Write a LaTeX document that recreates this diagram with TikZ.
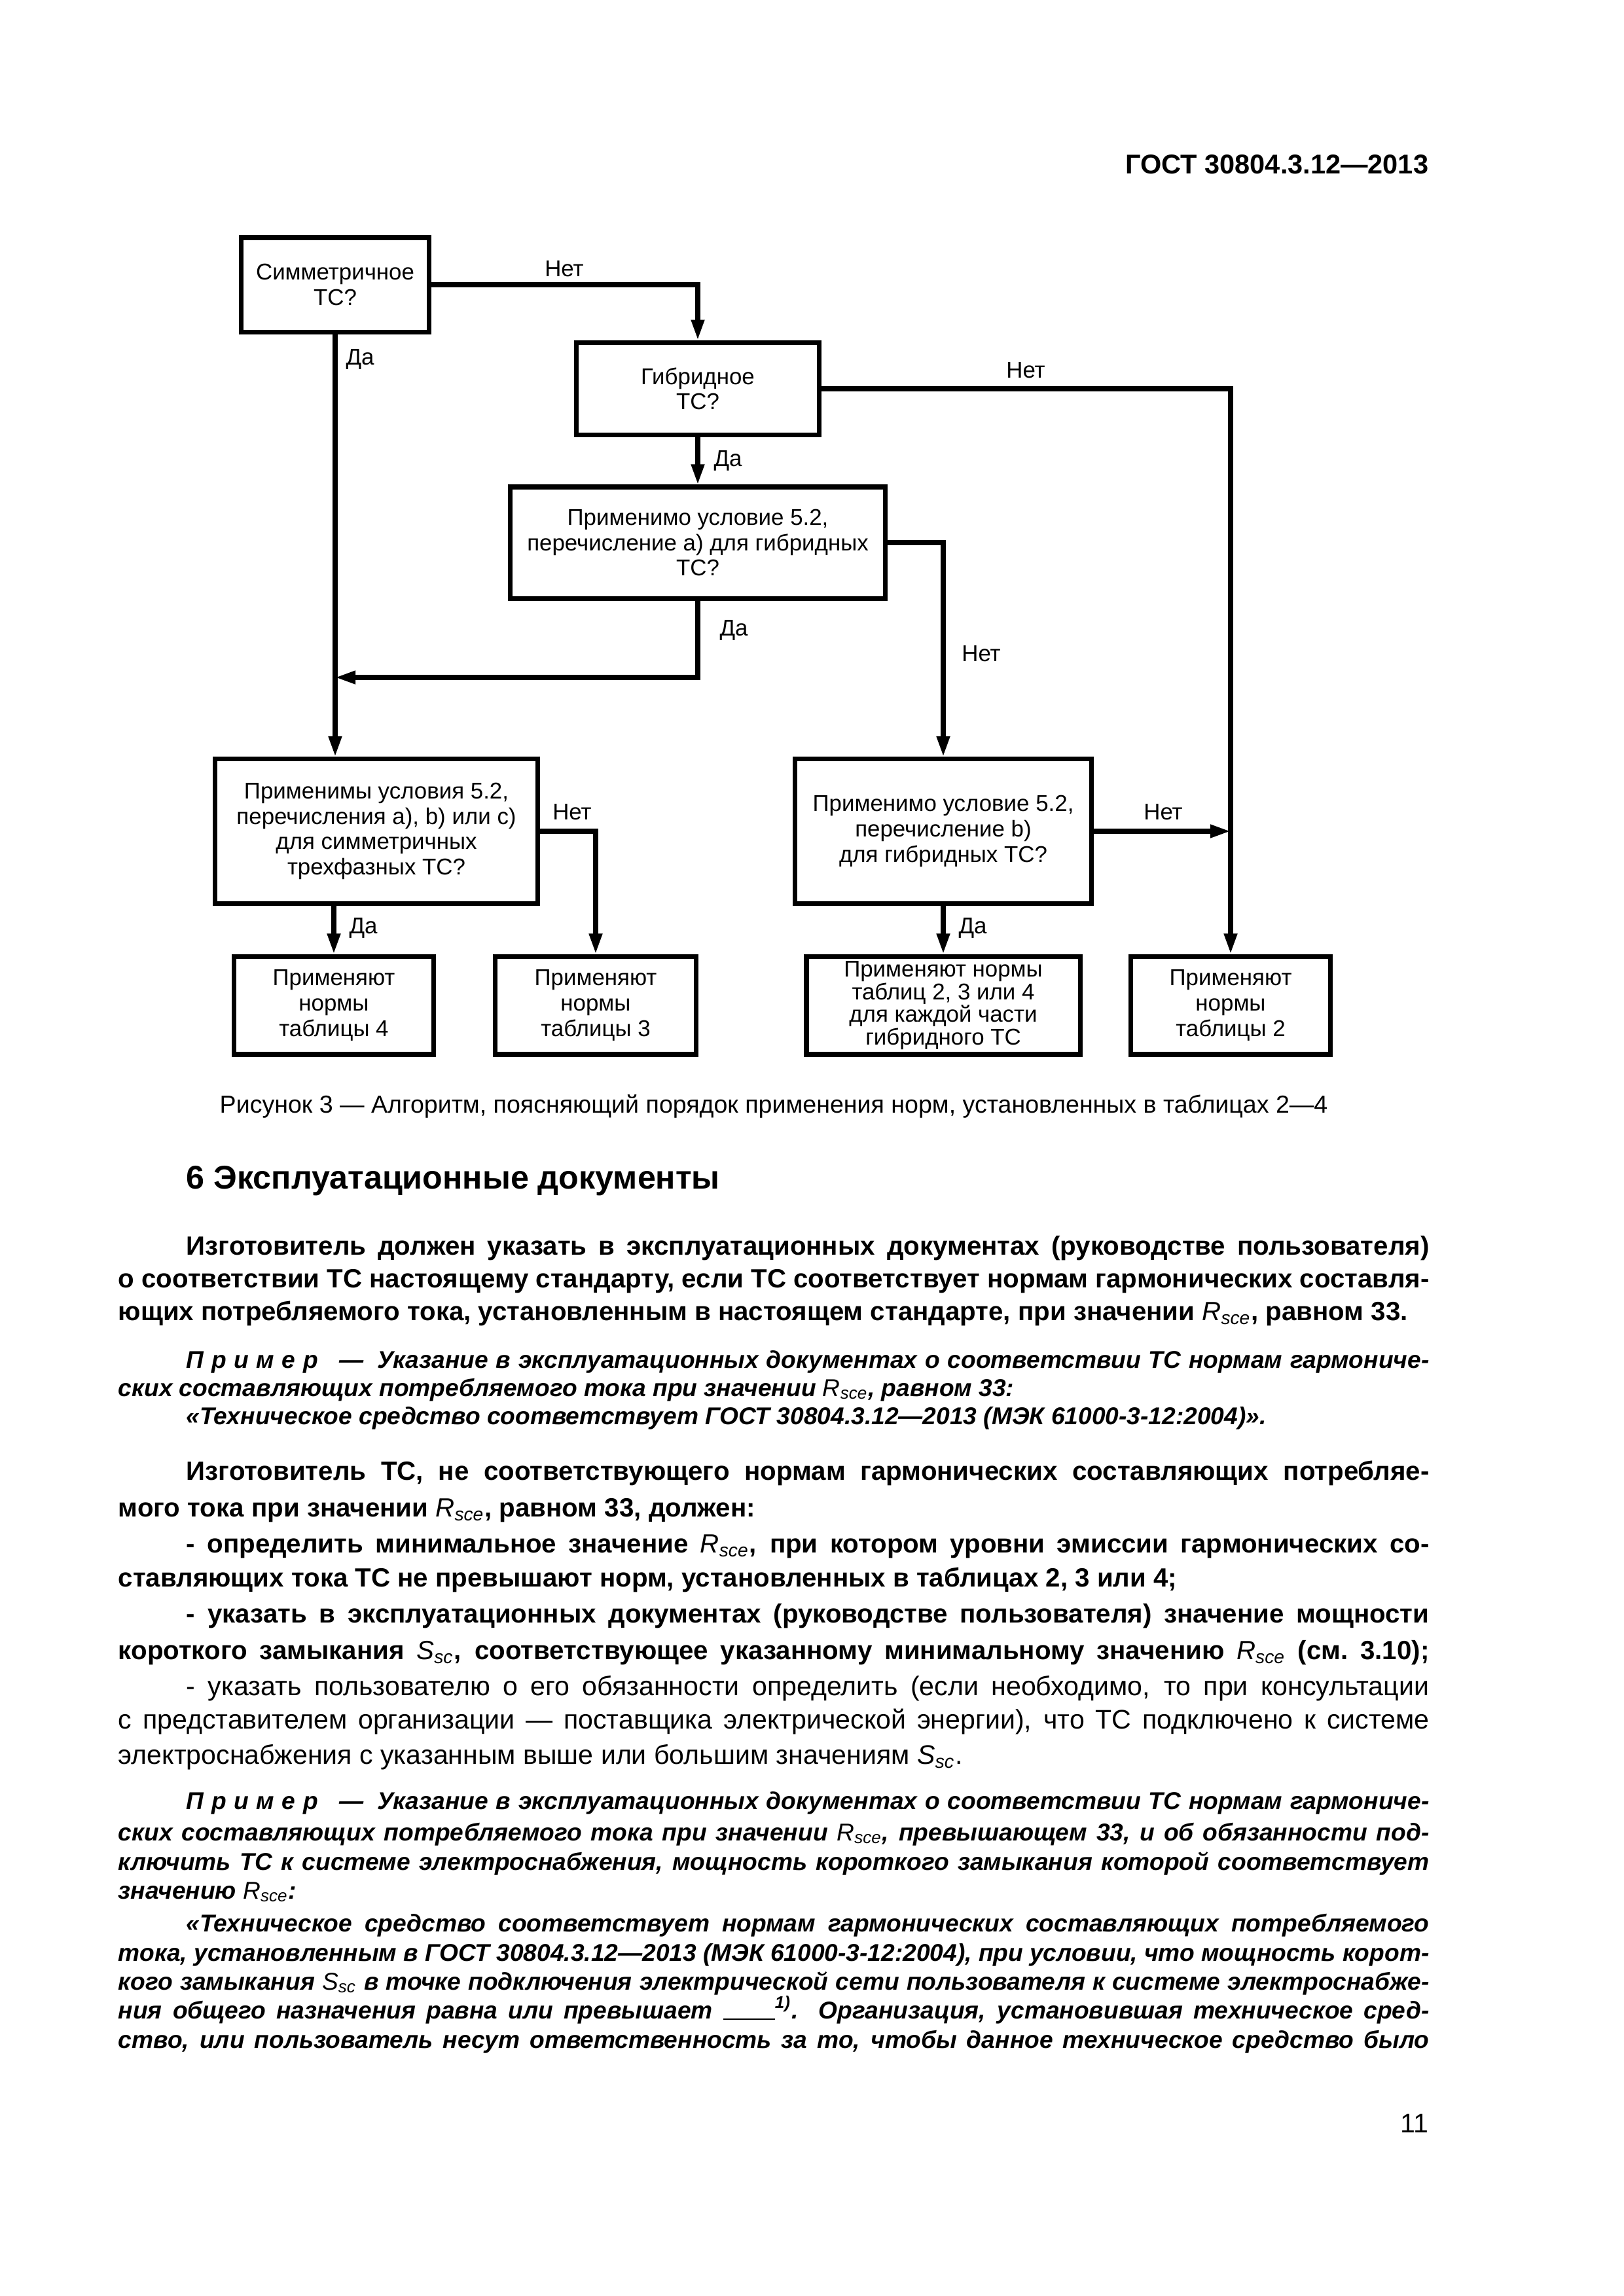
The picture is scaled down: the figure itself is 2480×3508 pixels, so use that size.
\documentclass[tikz,border=0pt]{standalone}
\usepackage{fontspec}
\setmainfont{Liberation Sans}
\usetikzlibrary{arrows.meta}

\newcommand{\flowfont}{\fontsize{8.4pt}{9.3pt}\selectfont}
\newcommand{\bodyfont}{\fontsize{9.7pt}{11.9pt}\selectfont\bfseries}
\newcommand{\plainfont}{\fontsize{9.9pt}{11.9pt}\selectfont}
\newcommand{\notefont}{\fontsize{8.95pt}{10.6pt}\selectfont\bfseries\itshape}
\newcommand{\Rsce}{{\normalfont\itshape R\textsubscript{sce}}}
\newcommand{\Ssc}{{\normalfont\itshape S\textsubscript{sc}}}
\newcommand{\primer}{П\kern2.8pt р\kern2.8pt и\kern2.8pt м\kern2.8pt е\kern2.8pt р\hspace{5pt} —\hspace{5pt}}
\newlength\fullw \setlength\fullw{16.959cm}
\newlength\indw \setlength\indw{16.078cm}

\tikzset{
  box/.style={draw=black, line width=1.7pt, align=center, inner sep=0pt, font=\flowfont},
  arr/.style={-{Triangle[length=7.5pt,width=4.6pt]}, line width=1.7pt},
  lbl/.style={inner sep=0pt, font=\flowfont},
  txt/.style={anchor=base west, inner sep=0pt},
}

\begin{document}
\begin{tikzpicture}[x=0.0084667cm, y=-0.0084667cm]
    \useasboundingbox (0,0) rectangle (2480,3508);

    \node[anchor=base east, inner sep=0pt, font=\fontsize{10pt}{12pt}\selectfont\bfseries] (head) at (2183,265) {ГОСТ 30804.3.12—2013};

    \node[box, minimum width=2.43cm, minimum height=1.22cm] (sym) at (512,435) {Симметричное\\ТС?};
    \node[box, minimum width=3.14cm, minimum height=1.20cm] (hyb) at (1066,594) {Гибридное\\ТС?};
    \node[box, minimum width=4.86cm, minimum height=1.44cm] (hyba) at (1066,829) {Применимо условие 5.2,\\перечисление a) для гибридных\\ТС?};
    \node[box, minimum width=4.17cm, minimum height=1.87cm] (abc) at (575,1270) {Применимы условия 5.2,\\перечисления a), b) или c)\\для симметричных\\трехфазных ТС?};
    \node[box, minimum width=3.83cm, minimum height=1.87cm] (hybb) at (1441,1270) {Применимо условие 5.2,\\перечисление b)\\для гибридных ТС?};
    \node[box, minimum width=2.58cm, minimum height=1.27cm] (tab4) at (510,1536) {Применяют\\нормы\\таблицы 4};
    \node[box, minimum width=2.60cm, minimum height=1.27cm] (tab3) at (910,1536) {Применяют\\нормы\\таблицы 3};
    \node[box, minimum width=3.54cm, minimum height=1.27cm, font=\fontsize{8.4pt}{8.3pt}\selectfont] (tab234) at (1441,1536) {Применяют нормы\\таблиц 2, 3 или 4\\для каждой части\\гибридного ТС};
    \node[box, minimum width=2.58cm, minimum height=1.27cm] (tab2) at (1880,1536) {Применяют\\нормы\\таблицы 2};
    \coordinate (mrg) at (512,1035);

    \draw[arr] (sym.east) -| (hyb.north);
    \draw[arr] (sym.south) -- (sym.south |- abc.north);
    \draw[arr] (hyb.south) -- (hyba.north);
    \draw[arr] (hyb.east) -| (tab2.north);
    \draw[arr] (hyba.east) -| (hybb.north);
    \draw[arr] (hyba.south) |- (mrg);
    \draw[arr] (abc.east) -| (tab3.north);
    \draw[arr] (tab4.north |- abc.south) -- (tab4.north);
    \draw[arr] (hybb.east) -- (hybb.east -| tab2.north);
    \draw[arr] (hybb.south) -- (tab234.north);

    \node[lbl] (no1) at (862,411) {Нет};
    \node[lbl] (yes1) at (550,549) {Да};
    \node[lbl] (yes2) at (1112,704) {Да};
    \node[lbl] (no2) at (1567,566) {Нет};
    \node[lbl] (no3) at (1499,999) {Нет};
    \node[lbl] (yes3) at (1121,963) {Да};
    \node[lbl] (no4) at (874,1241) {Нет};
    \node[lbl] (yes4) at (555,1418) {Да};
    \node[lbl] (no5) at (1777,1241) {Нет};
    \node[lbl] (yes5) at (1486,1418) {Да};

    \node[anchor=base, inner sep=0pt, font=\fontsize{9.05pt}{11pt}\selectfont] (cap) at (1182,1700) {Рисунок 3 — Алгоритм, поясняющий порядок применения норм, установленных в таблицах 2—4};

    \node[txt, font=\fontsize{12.1pt}{14pt}\selectfont\bfseries] (sec) at (284,1816) {6 Эксплуатационные документы};

    \node[txt, font=\bodyfont] (p1a) at (284,1917) {\makebox[\indw][s]{Изготовитель должен указать в эксплуатационных документах (руководстве пользователя)}};
    \node[txt, font=\bodyfont] (p1b) at (180,1967) {\makebox[\fullw][s]{о соответствии ТС настоящему стандарту, если ТС соответствует нормам гармонических составля-}};
    \node[txt, font=\bodyfont] (p1c) at (180,2017) {ющих потребляемого тока, установленным в настоящем стандарте, при значении \Rsce, равном 33.};

    \node[txt, font=\notefont] (n1a) at (284,2090) {\makebox[\indw][s]{\primer Указание в эксплуатационных документах о соответствии ТС нормам гармониче-}};
    \node[txt, font=\notefont] (n1b) at (180,2133) {ских составляющих потребляемого тока при значении \Rsce, равном 33:};
    \node[txt, font=\notefont] (n1c) at (284,2176) {«Техническое средство соответствует ГОСТ 30804.3.12—2013 (МЭК 61000-3-12:2004)».};

    \node[txt, font=\bodyfont] (p2a) at (284,2261) {\makebox[\indw][s]{Изготовитель ТС, не соответствующего нормам гармонических составляющих потребляе-}};
    \node[txt, font=\bodyfont] (p2b) at (180,2317) {мого тока при значении \Rsce, равном 33, должен:};
    \node[txt, font=\bodyfont] (b1a) at (284,2372) {\makebox[\indw][s]{- определить минимальное значение \Rsce, при котором уровни эмиссии гармонических со-}};
    \node[txt, font=\bodyfont] (b1b) at (180,2424) {ставляющих тока ТС не превышают норм, установленных в таблицах 2, 3 или 4;};
    \node[txt, font=\bodyfont] (b2a) at (284,2479) {\makebox[\indw][s]{- указать в эксплуатационных документах (руководстве пользователя) значение мощности}};
    \node[txt, font=\bodyfont] (b2b) at (180,2535) {\makebox[\fullw][s]{короткого замыкания \Ssc, соответствующее указанному минимальному значению \Rsce{} (см.~3.10);}};
    \node[txt, font=\plainfont] (b3a) at (284,2590) {\makebox[\indw][s]{- указать пользователю о его обязанности определить (если необходимо, то при консультации}};
    \node[txt, font=\plainfont] (b3b) at (180,2641) {\makebox[\fullw][s]{с представителем организации — поставщика электрической энергии), что ТС подключено к системе}};
    \node[txt, font=\plainfont] (b3c) at (180,2695) {электроснабжения с указанным выше или большим значениям \Ssc.};

    \node[txt, font=\notefont] (n2a) at (284,2764) {\makebox[\indw][s]{\primer Указание в эксплуатационных документах о соответствии ТС нормам гармониче-}};
    \node[txt, font=\notefont] (n2b) at (180,2812) {\makebox[\fullw][s]{ских составляющих потребляемого тока при значении \Rsce, превышающем 33, и об обязанности под-}};
    \node[txt, font=\notefont] (n2c) at (180,2857) {\makebox[\fullw][s]{ключить ТС к системе электроснабжения, мощность короткого замыкания которой соответствует}};
    \node[txt, font=\notefont] (n2d) at (180,2901) {значению \Rsce:};
    \node[txt, font=\notefont] (q1) at (284,2951) {\makebox[\indw][s]{«Техническое средство соответствует нормам гармонических составляющих потребляемого}};
    \node[txt, font=\notefont] (q2) at (180,2996) {\makebox[\fullw][s]{тока, установленным в ГОСТ 30804.3.12—2013 (МЭК 61000-3-12:2004), при условии, что мощность корот-}};
    \node[txt, font=\notefont] (q3) at (180,3040) {\makebox[\fullw][s]{кого замыкания \Ssc{} в точке подключения электрической сети пользователя к системе электроснабже-}};
    \node[txt, font=\notefont] (q4) at (180,3084) {\makebox[\fullw][s]{ния общего назначения равна или превышает \rule[-0.5pt]{19pt}{0.6pt}\textsuperscript{1)}. Организация, установившая техническое сред-}};
    \node[txt, font=\notefont] (q5) at (180,3129) {\makebox[\fullw][s]{ство, или пользователь несут ответственность за то, чтобы данное техническое средство было}};

    \node[anchor=base east, inner sep=0pt, font=\plainfont] (page) at (2183,3258) {11};

\end{tikzpicture}
\end{document}
